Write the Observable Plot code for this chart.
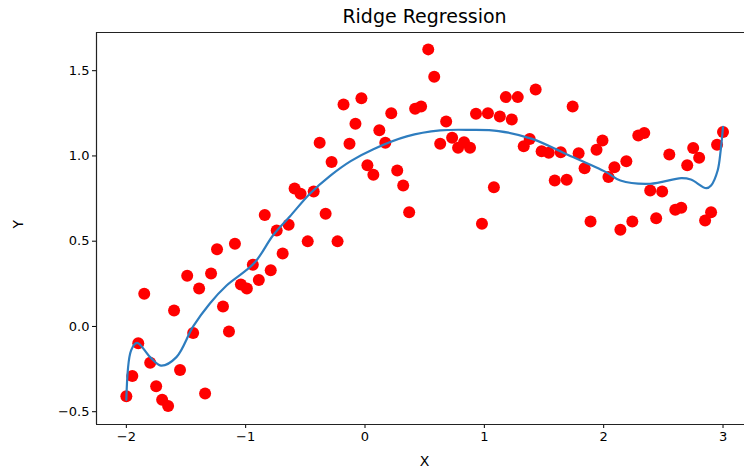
<!DOCTYPE html>
<html>
<head>
<meta charset="utf-8">
<script src="https://cdn.jsdelivr.net/npm/d3@7"></script>
<script src="https://cdn.jsdelivr.net/npm/@observablehq/plot@0.6"></script>
<style>
  html, body { margin: 0; padding: 0; background: #fff; }
  svg { font-family: "DejaVu Sans", sans-serif; }
</style>
</head>
<body>
<div id="chart"></div>
<script>
const pointX = [-2.00,-1.95,-1.90,-1.85,-1.80,-1.75,-1.70,-1.65,-1.60,-1.55,-1.49,-1.44,-1.39,-1.34,-1.29,-1.24,-1.19,-1.14,-1.09,-1.04,
  -0.99,-0.94,-0.89,-0.84,-0.79,-0.74,-0.69,-0.64,-0.59,-0.54,-0.48,-0.43,-0.38,-0.33,-0.28,-0.23,-0.18,-0.13,-0.08,-0.03,
  0.02,0.07,0.12,0.17,0.22,0.27,0.32,0.37,0.42,0.47,0.53,0.58,0.63,0.68,0.73,0.78,0.83,0.88,0.93,0.98,
  1.03,1.08,1.13,1.18,1.23,1.28,1.33,1.38,1.43,1.48,1.54,1.59,1.64,1.69,1.74,1.79,1.84,1.89,1.94,1.99,
  2.04,2.09,2.14,2.19,2.24,2.29,2.34,2.39,2.44,2.49,2.55,2.60,2.65,2.70,2.75,2.80,2.85,2.90,2.95,3.00];
const pointY = [-0.409,-0.291,-0.098,0.192,-0.213,-0.350,-0.430,-0.467,0.094,-0.256,0.297,-0.039,0.223,-0.393,0.311,0.453,0.117,-0.029,0.485,0.246,
  0.223,0.362,0.272,0.653,0.330,0.563,0.428,0.596,0.809,0.778,0.499,0.792,1.077,0.661,0.964,0.499,1.302,1.072,1.189,1.339,
  0.946,0.890,1.151,1.077,1.251,0.915,0.827,0.670,1.277,1.290,1.625,1.465,1.072,1.202,1.107,1.048,1.081,1.048,1.248,0.602,
  1.251,0.817,1.232,1.345,1.214,1.345,1.057,1.099,1.390,1.028,1.019,0.856,1.022,0.860,1.290,1.016,0.928,0.616,1.036,1.091,
  0.876,0.934,0.567,0.969,0.616,1.120,1.134,0.798,0.635,0.792,1.009,0.684,0.696,0.946,1.046,0.989,0.622,0.670,1.066,1.140];

const curveX = [-2.00,-1.96,-1.91,-1.80,-1.71,-1.58,-1.44,-1.30,-1.16,-0.93,-0.77,-0.63,-0.46,-0.29,-0.12,0.07,0.35,0.63,0.885,1.12,1.40,1.68,2.02,2.14,2.39,2.65,2.73,2.86,2.90,2.955,2.98,3.00];
const curveY = [-0.43,-0.14,-0.096,-0.18,-0.23,-0.18,0.0,0.135,0.24,0.37,0.535,0.645,0.78,0.885,0.97,1.04,1.115,1.15,1.153,1.146,1.10,1.013,0.905,0.856,0.837,0.87,0.862,0.811,0.827,0.915,1.03,1.17];

const xTicks = [-2, -1, 0, 1, 2, 3];
const yTicks = [-0.5, 0.0, 0.5, 1.0, 1.5];
const titleText = "Ridge Regression";
const xLabel = "X";
const yLabel = "Y";

const points = pointX.map((x, i) => ({x, y: pointY[i]}));
const curve = curveX.map((x, i) => ({x, y: curveY[i]}));

const xDom = [-2.25, 3.18];
const yDom = [-0.575, 1.724];
const minus = s => s.replace("-", "\u2212");

const chart = Plot.plot({
  width: 744,
  height: 470,
  marginLeft: 96,
  marginRight: 0,
  marginTop: 32,
  marginBottom: 46,
  style: {fontFamily: "DejaVu Sans, sans-serif", background: "#fff", color: "#000"},
  x: {domain: xDom, label: null},
  y: {domain: yDom, label: null},
  marks: [
    Plot.axisX({ticks: xTicks, tickFormat: d => minus(d3.format("d")(d)), tickSize: 4, tickPadding: 3, fontSize: 13, label: null}),
    Plot.axisY({ticks: yTicks, tickFormat: d => minus(d3.format(".1f")(d)), tickSize: 4, tickPadding: 3, fontSize: 13, label: null}),
    Plot.dot(points, {x: "x", y: "y", r: 6, fill: "red", stroke: "none"}),
    Plot.line(curve, {x: "x", y: "y", stroke: "#2e7dbf", strokeWidth: 2.2, curve: "catmull-rom"}),
    Plot.ruleX([xDom[0]], {stroke: "#222", strokeWidth: 1.2}),
    Plot.ruleY([yDom[0], yDom[1]], {stroke: "#222", strokeWidth: 1.2}),
    Plot.text([titleText], {frameAnchor: "top", dx: 4, dy: -16, lineAnchor: "middle", fontSize: 19, fill: "#000"}),
    Plot.text([xLabel], {frameAnchor: "bottom", dx: 4, dy: 37, lineAnchor: "middle", fontSize: 14, fill: "#000"}),
    Plot.text([yLabel], {frameAnchor: "left", dx: -78, rotate: -90, lineAnchor: "middle", fontSize: 14, fill: "#000"})
  ]
});
document.getElementById("chart").appendChild(chart);
</script>
</body>
</html>
